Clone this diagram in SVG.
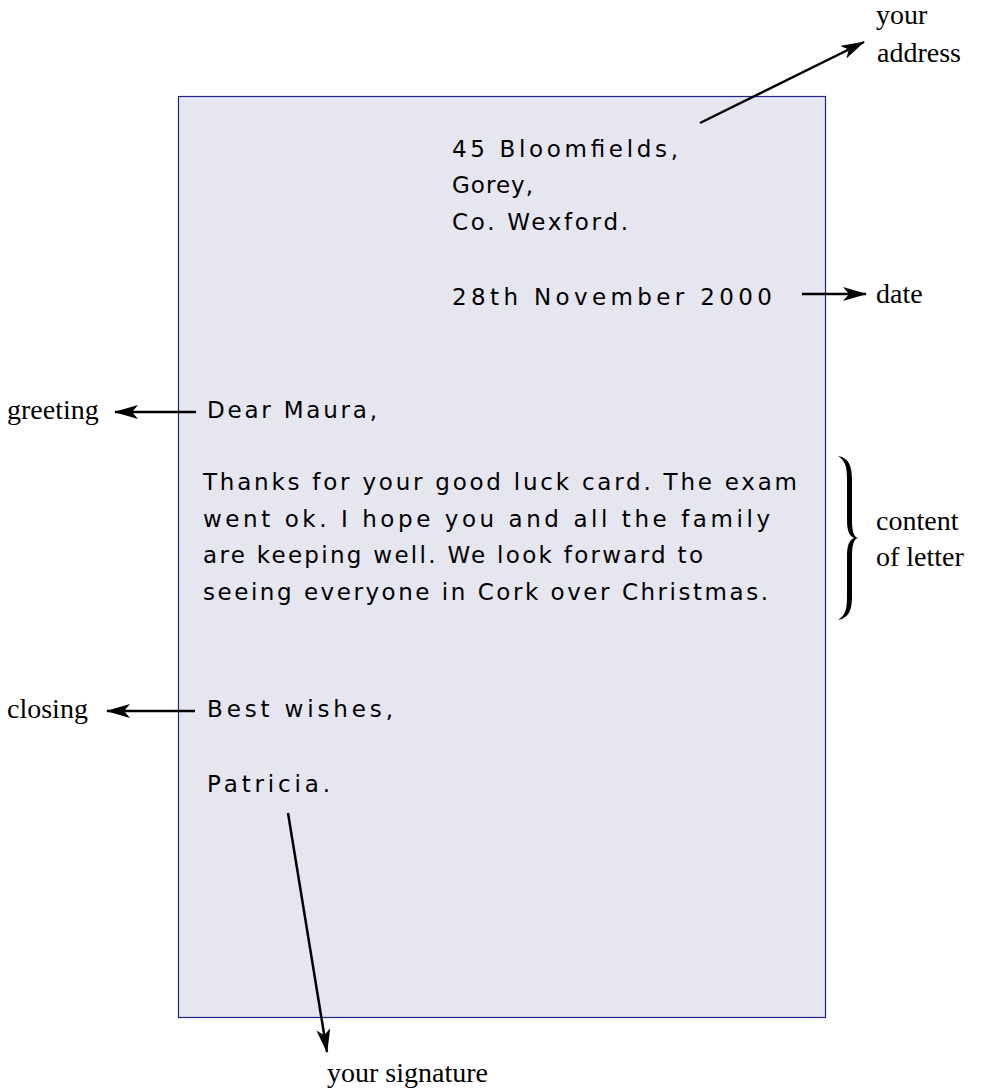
<svg xmlns="http://www.w3.org/2000/svg" width="981" height="1090" viewBox="0 0 981 1090">
<style>
.hw{font-family:"DejaVu Sans","Liberation Sans",sans-serif;font-size:23px;fill:#000}
.lb{font-family:"Liberation Serif","Times New Roman",serif;font-size:28px;fill:#000}
.ar{stroke:#000;stroke-width:2.5;fill:none;marker-end:url(#ah)}
</style>
<defs>
<marker id="ah" viewBox="0 0 24 14" refX="23" refY="7" markerWidth="24" markerHeight="14" markerUnits="userSpaceOnUse" orient="auto">
<path d="M0,0 L24,7 L0,14 L6,7 Z" fill="#000"/>
</marker>
</defs>
<g id="letter">
<rect x="178.5" y="96.5" width="647" height="921" fill="#e6e6f0" stroke="#22228c" stroke-width="1.2"/>
</g>
<g id="address">
<text class="hw" x="452" y="157" textLength="226" lengthAdjust="spacing">45 Bloomfields,</text>
<text class="hw" x="452" y="193" textLength="81" lengthAdjust="spacing">Gorey,</text>
<text class="hw" x="452" y="230" textLength="176" lengthAdjust="spacing">Co. Wexford.</text>
</g>
<g id="date">
<text class="hw" x="452" y="305" textLength="320" lengthAdjust="spacing">28th November 2000</text>
</g>
<g id="greeting">
<text class="hw" x="207" y="418" textLength="170" lengthAdjust="spacing">Dear Maura,</text>
</g>
<g id="content">
<text class="hw" x="203" y="490" textLength="594" lengthAdjust="spacing">Thanks for your good luck card. The exam</text>
<text class="hw" x="203" y="527" textLength="567" lengthAdjust="spacing">went ok. I hope you and all the family</text>
<text class="hw" x="203" y="563" textLength="500" lengthAdjust="spacing">are keeping well. We look forward to</text>
<text class="hw" x="203" y="600" textLength="565" lengthAdjust="spacing">seeing everyone in Cork over Christmas.</text>
</g>
<g id="closing">
<text class="hw" x="207" y="717" textLength="186" lengthAdjust="spacing">Best wishes,</text>
</g>
<g id="signature">
<text class="hw" x="207" y="792" textLength="123" lengthAdjust="spacing">Patricia.</text>
</g>
<g id="labels">
<text class="lb" x="876" y="24">your</text>
<text class="lb" x="877" y="62">address</text>
<text class="lb" x="876" y="303">date</text>
<text class="lb" x="7" y="419">greeting</text>
<text class="lb" x="876" y="530">content</text>
<text class="lb" x="876" y="566">of letter</text>
<text class="lb" x="7" y="718">closing</text>
<text class="lb" x="327" y="1082">your signature</text>
</g>
<g id="connectors">
<line class="ar" x1="700" y1="123" x2="864" y2="42"/>
<line class="ar" x1="802" y1="294" x2="866" y2="294"/>
<line class="ar" x1="196" y1="412" x2="115" y2="412"/>
<line class="ar" x1="195" y1="711" x2="107" y2="711"/>
<line class="ar" x1="288" y1="813" x2="327" y2="1052"/>
<path d="M838,456 C850,458 852,468 852,480 L852,520 C852,532 854,537 858,538 C854,539 852,544 852,556 L852,596 C852,608 850,618 838,620 C846,615 847,608 847,596 L847,556 C847,546 849,540 854,538 C849,536 847,530 847,520 L847,480 C847,468 846,461 838,456 Z" fill="#000"/>
</g>
</svg>
